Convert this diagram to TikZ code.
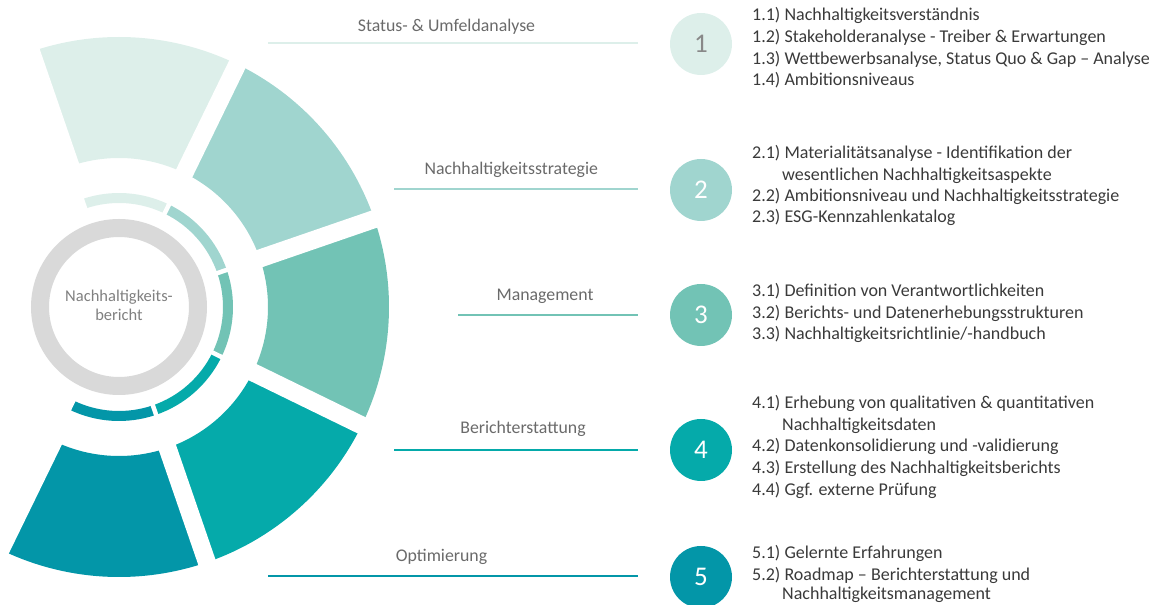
\documentclass[tikz,border=0pt]{standalone}
\usepackage{fontspec}
\setmainfont{Carlito}
\definecolor{cA}{HTML}{DDEFEA}
\definecolor{cB}{HTML}{A0D5CF}
\definecolor{cC}{HTML}{72C3B5}
\definecolor{cD}{HTML}{05AAAA}
\definecolor{cE}{HTML}{0396A8}
\definecolor{ringgray}{HTML}{D9D9D9}
\definecolor{coregray}{HTML}{808080}
\definecolor{hdrgray}{HTML}{6A6A6A}
\definecolor{txtgray}{HTML}{3A3A3A}
\begin{document}
\begin{tikzpicture}[x=1pt,y=1pt,
  hdr/.style={anchor=base, text=hdrgray, font=\fontsize{17.8}{21}\selectfont, inner sep=0pt},
  item/.style={anchor=base west, text=txtgray, font=\fontsize{18}{21}\selectfont, inner sep=0pt},
  badge/.style={circle, minimum size=62pt, inner sep=0pt, font=\fontsize{27}{27}\selectfont},
  hline/.style={line width=2pt},
  gapline/.style={white, line width=#1}]
\useasboundingbox (0,0) rectangle (1157,605);

% ---- segmented ring ----
\begin{scope}[shift={(119,298)}]
  \fill[cA] (109:270) arc[start angle=109,end angle=64,radius=270] -- (64:149) arc[start angle=64,end angle=109,radius=149] -- cycle;
  \fill[cB] (64:270) arc[start angle=64,end angle=19,radius=270] -- (19:149) arc[start angle=19,end angle=64,radius=149] -- cycle;
  \fill[cC] (19:270) arc[start angle=19,end angle=-26,radius=270] -- (-26:149) arc[start angle=-26,end angle=19,radius=149] -- cycle;
  \fill[cD] (-26:270) arc[start angle=-26,end angle=-71,radius=270] -- (-71:149) arc[start angle=-71,end angle=-26,radius=149] -- cycle;
  \fill[cE] (-71:270) arc[start angle=-71,end angle=-116,radius=270] -- (-116:149) arc[start angle=-116,end angle=-71,radius=149] -- cycle;
  \foreach \a in {109,64,19,-26,-71,-116}
    \draw[gapline=18pt] (\a:138) -- (\a:285);
  % small inner arcs
  \draw[cA, line width=10pt] (109:109) arc[start angle=109,end angle=64,radius=109];
  \draw[cB, line width=10pt] (64:109) arc[start angle=64,end angle=19,radius=109];
  \draw[cC, line width=10pt] (19:109) arc[start angle=19,end angle=-26,radius=109];
  \draw[cD, line width=10pt] (-26:109) arc[start angle=-26,end angle=-71,radius=109];
  \draw[cE, line width=10pt] (-71:109) arc[start angle=-71,end angle=-116,radius=109];
  \foreach \a in {109,64,19,-26,-71,-116}
    \draw[gapline=4.5pt] (\a:100) -- (\a:118);
  % grey core ring
  \draw[ringgray, line width=18pt] (0,0) circle[radius=79];
\end{scope}
\node[align=center, text=coregray, font=\fontsize{16.5}{19}\selectfont] (core) at (119,300) {Nachhaltigkeits-\\bericht};

% ---- headers and lines ----
\node[hdr] (h1) at (446.5,573.5) {Status- \& Umfeldanalyse};
\node[hdr] (h2) at (511.3,430) {Nachhaltigkeitsstrategie};
\node[hdr] (h3) at (545,304.3) {Management};
\node[hdr] (h4) at (523,171) {Berichterstattung};
\node[hdr] (h5) at (441.5,43.3) {Optimierung};

\coordinate (l1a) at (268,561.5); \coordinate (l1b) at (638,561.5);
\coordinate (l2a) at (394,415.7); \coordinate (l2b) at (638,415.7);
\coordinate (l3a) at (458,290);   \coordinate (l3b) at (638,290);
\coordinate (l4a) at (394,155);   \coordinate (l4b) at (638,155);
\coordinate (l5a) at (268,28.5);  \coordinate (l5b) at (638,28.5);
\draw[hline, cA] (l1a) -- (l1b);
\draw[hline, cB] (l2a) -- (l2b);
\draw[hline, cC] (l3a) -- (l3b);
\draw[hline, cD] (l4a) -- (l4b);
\draw[hline, cE] (l5a) -- (l5b);

% ---- numbered badges ----
\node[badge, fill=cA, text=hdrgray!80] (b1) at (701,561) {1};
\node[badge, fill=cB, text=white] (b2) at (701,415) {2};
\node[badge, fill=cC, text=white] (b3) at (701,290) {3};
\node[badge, fill=cD, text=white] (b4) at (701,155) {4};
\node[badge, fill=cE, text=white] (b5) at (701,28) {5};

% ---- item lists ----
\node[item] (t11) at (752,584.3) {1.1) Nachhaltigkeitsverständnis};
\node[item] (t12) at (752,562.5) {1.2) Stakeholderanalyse - Treiber \& Erwartungen};
\node[item] (t13) at (752,540.7) {1.3) Wettbewerbsanalyse, Status Quo \& Gap – Analyse};
\node[item] (t14) at (752,519) {1.4) Ambitionsniveaus};

\node[item] (t21) at (752,446) {2.1) Materialitätsanalyse - Identifikation der};
\node[item] (t21b) at (782,424.5) {wesentlichen Nachhaltigkeitsaspekte};
\node[item] (t22) at (752,403.5) {2.2) Ambitionsniveau und Nachhaltigkeitsstrategie};
\node[item] (t23) at (752,382.3) {2.3) ESG-Kennzahlenkatalog};

\node[item] (t31) at (752,308.3) {3.1) Definition von Verantwortlichkeiten};
\node[item] (t32) at (752,286.7) {3.2) Berichts- und Datenerhebungsstrukturen};
\node[item] (t33) at (752,265.7) {3.3) Nachhaltigkeitsrichtlinie/-handbuch};

\node[item] (t41) at (752,196) {4.1) Erhebung von qualitativen \& quantitativen};
\node[item] (t41b) at (782,174.5) {Nachhaltigkeitsdaten};
\node[item] (t42) at (752,153) {4.2) Datenkonsolidierung und -validierung};
\node[item] (t43) at (752,131) {4.3) Erstellung des Nachhaltigkeitsberichts};
\node[item] (t44) at (752,109.5) {4.4) Ggf. externe Prüfung};

\node[item] (t51) at (752,46.5) {5.1) Gelernte Erfahrungen};
\node[item] (t52) at (752,24.5) {5.2) Roadmap – Berichterstattung und};
\node[item] (t52b) at (782,5) {Nachhaltigkeitsmanagement};
\end{tikzpicture}
\end{document}
